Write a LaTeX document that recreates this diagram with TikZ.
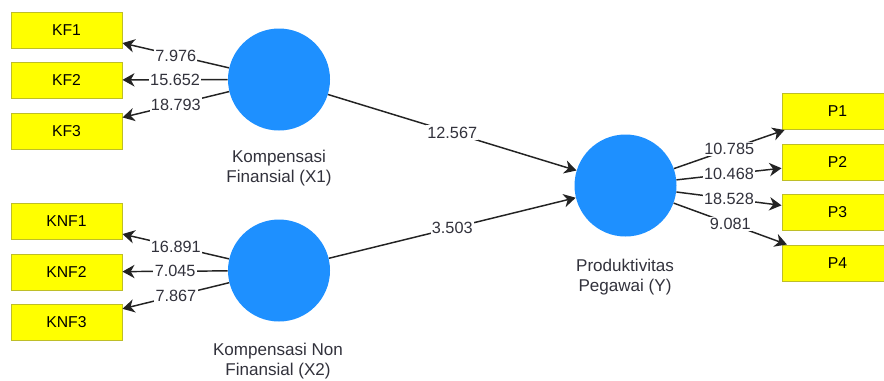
\documentclass[tikz,border=0pt]{standalone}
\usepackage{fontspec}
\setmainfont{Liberation Sans}
\usetikzlibrary{arrows.meta,calc}
\definecolor{lvblue}{RGB}{30,144,255}
\definecolor{mvyellow}{RGB}{255,255,0}
\definecolor{mvborder}{RGB}{190,190,40}
\definecolor{linegray}{RGB}{35,35,35}
\definecolor{txtgray}{RGB}{50,50,60}
\begin{document}
\begin{tikzpicture}[x=0.75pt,y=-0.75pt,
  latent/.style={circle,fill=lvblue,minimum size=76.5pt,inner sep=0},
  indicator/.style={rectangle,draw=mvborder,line width=0.75pt,fill=mvyellow,
    minimum width=83.25pt,minimum height=27pt,inner sep=0,
    font=\fontsize{11.8}{13}\selectfont},
  lvlabel/.style={anchor=north,align=center,inner sep=0,text=txtgray,
    font=\fontsize{12.8}{15}\selectfont},
  conn/.style={draw=linegray,line width=1.1pt,
    -{Stealth[length=9pt,width=10pt,inset=2.8pt]}},
  coef/.style={fill=white,inner sep=1pt,text=txtgray,
    font=\fontsize{12.2}{13}\selectfont}]
\useasboundingbox (0,0) rectangle (884,380);
\clip (0,0) rectangle (884,380);
\fill[white] (0,0) rectangle (884,380);

% latent variables
\node[latent] (x1) at (279,79.5) {};
\node[latent] (x2) at (279,270.5) {};
\node[latent] (y) at (625.5,185.5) {};

\node[lvlabel] (lx1) at (279,150) {Kompensasi\\Finansial (X1)};
\node[lvlabel] (lx2) at (278,343) {Kompensasi Non\\Finansial (X2)};
\node[lvlabel] (ly) at (625,259) {Produktivitas\\Pegawai (Y)};

% indicators
\node[indicator] (kf1) at (66.5,30) {KF1};
\node[indicator] (kf2) at (66.5,80) {KF2};
\node[indicator] (kf3) at (66.5,131) {KF3};
\node[indicator] (knf1) at (66.5,221) {KNF1};
\node[indicator] (knf2) at (66.5,272) {KNF2};
\node[indicator] (knf3) at (66.5,322.5) {KNF3};
\node[indicator] (p1) at (837.5,111.5) {P1};
\node[indicator] (p2) at (837.5,162) {P2};
\node[indicator] (p3) at (837.5,212.5) {P3};
\node[indicator] (p4) at (837.5,263) {P4};

% outer model
\draw[conn] (x1) -- node[coef] {7.976} (kf1);
\draw[conn] (x1) -- node[coef] {15.652} (kf2);
\draw[conn] (x1) -- node[coef] {18.793} (kf3);
\draw[conn] (x2) -- node[coef] {16.891} (knf1);
\draw[conn] (x2) -- node[coef] {7.045} (knf2);
\draw[conn] (x2) -- node[coef] {7.867} (knf3);
\draw[conn] (y) -- node[coef] {10.785} (p1);
\draw[conn] (y) -- node[coef] {10.468} (p2);
\draw[conn] (y) -- node[coef] {18.528} (p3);
\draw[conn] (y) -- node[coef] {9.081} (p4);

% inner model
\draw[conn] (x1) -- node[coef] {12.567} (y);
\draw[conn] (x2) -- node[coef] {3.503} (y);
\end{tikzpicture}
\end{document}
